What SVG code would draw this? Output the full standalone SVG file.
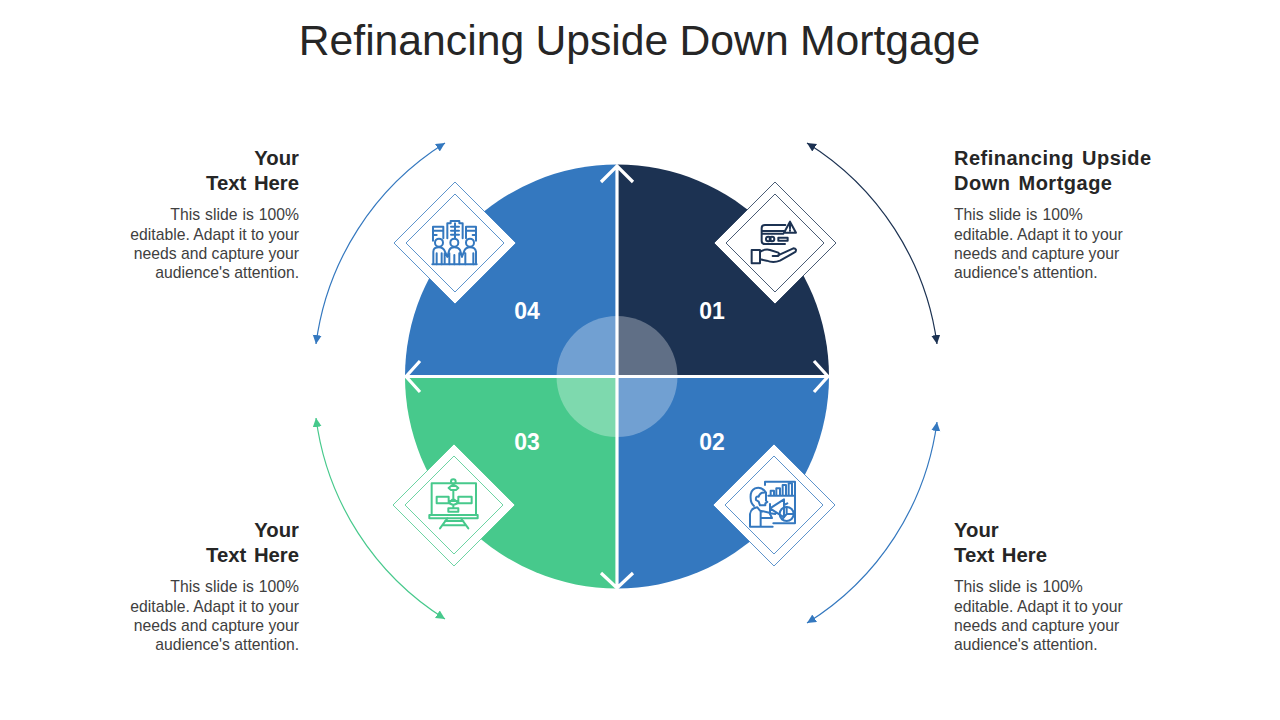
<svg xmlns="http://www.w3.org/2000/svg" width="1280" height="720" viewBox="0 0 1280 720">
<style>
.t{font-family:"Liberation Sans",Arial,sans-serif}
.title{font-size:42.7px;fill:#262626;text-anchor:middle;word-spacing:-.6px}
.h{font-size:20.3px;font-weight:700;fill:#262626;word-spacing:2px}
.w{font-size:20px;letter-spacing:.5px;word-spacing:2px}
.b{font-size:15.72px;fill:#404040}
.s{word-spacing:.65px}
.r{text-anchor:end}
.n{font-size:23px;font-weight:700;fill:#fff;text-anchor:middle}
.arc{fill:none;stroke-width:1.2}
.ic{fill:none;stroke-width:6;stroke-linejoin:round;stroke-linecap:round}
.d{fill:#fff;stroke-width:.8}
.cross{fill:none;stroke:#fff;stroke-width:3.2}
</style>
<defs>
<marker id="mn" markerUnits="userSpaceOnUse" markerWidth="10" markerHeight="10" refX="9" refY="4.5" orient="auto-start-reverse"><path d="M0 0L9 4.5L0 9Z" fill="#1c3252"/></marker>
<marker id="mb" markerUnits="userSpaceOnUse" markerWidth="10" markerHeight="10" refX="9" refY="4.5" orient="auto-start-reverse"><path d="M0 0L9 4.5L0 9Z" fill="#3478bf"/></marker>
<marker id="mg" markerUnits="userSpaceOnUse" markerWidth="10" markerHeight="10" refX="9" refY="4.5" orient="auto-start-reverse"><path d="M0 0L9 4.5L0 9Z" fill="#47c98c"/></marker>
</defs>
<rect width="1280" height="720" fill="#fff"/>
<text class="t title" x="639.5" y="55">Refinancing Upside Down Mortgage</text>

<g id="wheel">
<path d="M617 376.5V164.5A212 212 0 0 1 829 376.5Z" fill="#1c3252"/>
<path d="M617 376.5H829A212 212 0 0 1 617 588.5Z" fill="#3478bf"/>
<path d="M617 376.5V588.5A212 212 0 0 1 405 376.5Z" fill="#47c98c"/>
<path d="M617 376.5H405A212 212 0 0 1 617 164.5Z" fill="#3478bf"/>
<circle cx="617" cy="376.5" r="60.5" fill="#fff" fill-opacity=".3"/>
<path class="cross" d="M617 166V588M407 376.5H828M601 182L617 166L633 182M601 573L617 588L633 573M420 361L406 376.5L420 392M814 361L828 376.5L814 392"/>
</g>

<g id="connectors">
<path class="arc" stroke="#1c3252" d="M807 143A280 280 0 0 1 937 344" marker-start="url(#mn)" marker-end="url(#mn)"/>
<path class="arc" stroke="#3478bf" d="M445 143A280 280 0 0 0 316 344" marker-start="url(#mb)" marker-end="url(#mb)"/>
<path class="arc" stroke="#47c98c" d="M316 418A280 280 0 0 0 445 619" marker-start="url(#mg)" marker-end="url(#mg)"/>
<path class="arc" stroke="#3478bf" d="M937 422A280 280 0 0 1 807 623" marker-start="url(#mb)" marker-end="url(#mb)"/>
</g>

<g id="node-01">
<text class="t n" x="712" y="319">01</text>
<path class="d" stroke="#1c3252" d="M775 182L836 243L775 304L714 243Z"/>
<path class="d" stroke="#1c3252" d="M775 194L824 243L775 292L726 243Z"/>
<g class="ic" stroke="#1c3252" transform="translate(710 170) scale(.3333)">
<path d="M225 222H165Q155 222 155 212V175Q155 165 165 165H226M155 183H224M155 191H220"/>
<circle cx="175" cy="207" r="7"/><circle cx="186" cy="207" r="7"/>
<rect x="205" y="203" width="28" height="9"/>
<path d="M240 155L222 188H258ZM240 165V175M240 180V182"/>
<rect x="125" y="240" width="25" height="40"/>
<path d="M150 246Q165 236 180 240L205 248Q212 254 204 258L188 258M204 256L250 235Q262 236 256 246L210 272Q190 280 170 272L150 268"/>
</g>
<text class="t h w" x="954" y="165">Refinancing Upside</text>
<text class="t h w" x="954" y="190">Down Mortgage</text>
<text class="t b s" x="954" y="220">This slide is 100%</text>
<text class="t b" x="954" y="240">editable. Adapt it to your</text>
<text class="t b" x="954" y="259">needs and capture your</text>
<text class="t b" x="954" y="278">audience's attention.</text>
</g>

<g id="node-02">
<text class="t n" x="712" y="450">02</text>
<path class="d" stroke="#3478bf" d="M774 444L835 505L774 566L713 505Z"/>
<path class="d" stroke="#3478bf" d="M774 456L823 505L774 554L725 505Z"/>
<g class="ic" stroke="#3478bf" transform="translate(710 440) scale(.3333)">
<path d="M165 135V125H255V250H190"/>
<path d="M175 167H250M182 167V152H192V167M199 167V145H210V167M218 167V135H228V167M236 167V130H246V167"/>
<circle cx="230" cy="222" r="21"/><path d="M230 201V222H251M230 222L216 238"/>
<path d="M180 205L222 178V232ZM180 192V220L196 222M222 195L232 190"/>
<path d="M168 158Q155 138 135 145Q120 152 122 175Q122 190 132 198M168 158Q150 155 146 170Q136 168 138 180L146 185M168 158V182L172 186L166 190V196H150L146 185"/>
<path d="M120 260V222Q122 205 142 202L150 212L178 218L186 234H152V260ZM120 260H188M152 234V214"/>
</g>
<text class="t h" x="954" y="537">Your</text>
<text class="t h" x="954" y="562">Text Here</text>
<text class="t b s" x="954" y="592">This slide is 100%</text>
<text class="t b" x="954" y="612">editable. Adapt it to your</text>
<text class="t b" x="954" y="631">needs and capture your</text>
<text class="t b" x="954" y="650">audience's attention.</text>
</g>

<g id="node-03">
<text class="t n" x="527" y="450">03</text>
<path class="d" stroke="#47c98c" d="M454 444L515 505L454 566L393 505Z"/>
<path class="d" stroke="#47c98c" d="M454 456L503 505L454 554L405 505Z"/>
<g class="ic" stroke="#47c98c" transform="translate(390 440) scale(.3333)">
<rect x="125" y="130" width="133" height="95"/>
<rect x="118" y="225" width="145" height="10"/>
<path d="M172 235L150 265M213 235L235 265M165 243H220M160 256H226"/>
<circle cx="190" cy="125" r="7"/>
<path d="M190 132V138M183 138H198L205 144L198 150H183L176 144ZM190 150V165M140 170H176V190H140ZM205 170H245V190H205ZM176 183H205M190 165V176M190 176L205 189L190 195L176 189ZM190 195V205M175 205H205V215H175Z"/>
</g>
<text class="t h r" x="299" y="537">Your</text>
<text class="t h r" x="299" y="562">Text Here</text>
<text class="t b s r" x="299" y="592">This slide is 100%</text>
<text class="t b r" x="299" y="612">editable. Adapt it to your</text>
<text class="t b r" x="299" y="631">needs and capture your</text>
<text class="t b r" x="299" y="650">audience's attention.</text>
</g>

<g id="node-04">
<text class="t n" x="527" y="319">04</text>
<path class="d" stroke="#3478bf" d="M455 182L516 243L455 304L394 243Z"/>
<path class="d" stroke="#3478bf" d="M455 194L504 243L455 292L406 243Z"/>
<g class="ic" stroke="#3478bf" transform="translate(390 170) scale(.3333)">
<path d="M172 205V160H182V153H208V160H218V205M183 170H207M183 182H207M183 194H207M195 160V205"/>
<path d="M129 212V170H160V205M129 182H160M129 195H140"/>
<path d="M258 212V170H228V205M228 182H258M248 195H258"/>
<circle cx="147" cy="218" r="12"/><circle cx="193" cy="218" r="12"/><circle cx="240" cy="218" r="12"/>
<path d="M127 283H260"/>
<path d="M130 280V245Q130 232 147 232Q160 232 165 245L172 260M164 280V250M140 250V283M155 250V283"/>
<path d="M172 260L178 240Q182 232 193 232Q205 232 210 240L216 260M178 250V283M208 250V283M193 255V283"/>
<path d="M216 260L222 245Q226 232 240 232Q256 232 258 245V280M226 250V283M250 250V283"/>
</g>
<text class="t h r" x="299" y="165">Your</text>
<text class="t h r" x="299" y="190">Text Here</text>
<text class="t b s r" x="299" y="220">This slide is 100%</text>
<text class="t b r" x="299" y="240">editable. Adapt it to your</text>
<text class="t b r" x="299" y="259">needs and capture your</text>
<text class="t b r" x="299" y="278">audience's attention.</text>
</g>
</svg>
